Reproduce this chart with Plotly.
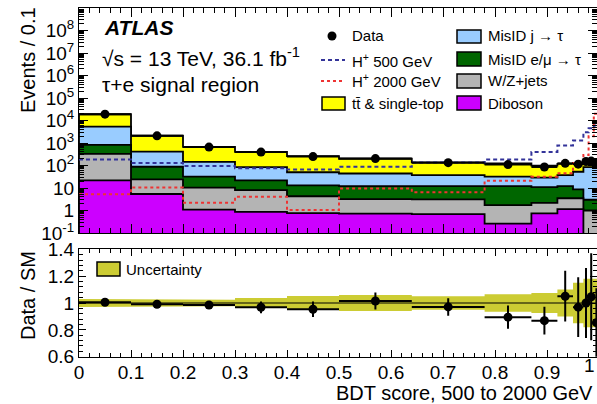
import plotly.graph_objects as go

# ---------------------------------------------------------------- data
edges = [0.0, 0.1, 0.2, 0.3, 0.4, 0.5, 0.64, 0.78, 0.87, 0.92, 0.95, 0.97, 0.98, 0.99, 1.0]

# background components (events / 0.1), bottom of the stack first
diboson   = [22, 5.4, 1.1, 0.86, 0.77, 0.72, 0.69, 0.26, 0.75, 1.15, 1.15, 0, 0, 0]
wz_jets   = [308, 18.6, 9.2, 7.24, 3.53, 2.48, 2.41, 1.49, 1.45, 2.35, 2.35, 1.0, 1.0, 1.0]
misid_lep = [490, 64, 21.7, 13.9, 8.9, 8.9, 9.0, 10.35, 8.8, 8.6, 5.2, 2.0, 2.0, 2.0]
misid_jet = [4480, 322, 114, 62, 36.8, 31.9, 24.9, 19.9, 18, 24.9, 44, 82, 82, 82]
ttbar     = [13700, 1690, 524, 323, 210, 156, 101, 91, 70, 82, 66, 65, 65, 65]

# observed data and its relative statistical uncertainty
data         = [19100, 2080, 660, 394, 248, 203, 134, 110, 86, 125, 115, 150, 157, 128]
data_rel_err = [0.008, 0.02, 0.02, 0.045, 0.06, 0.062, 0.067, 0.097, 0.12, 0.18, 0.23, 0.26, 0.31, 0.30]

# relative uncertainty of the SM prediction
sm_rel_unc = [0.03, 0.025, 0.025, 0.037, 0.052, 0.06, 0.05, 0.066, 0.075, 0.10, 0.15, 0.18, 0.18, 0.18]

# signal hypotheses
hplus_500  = [185, 130, 95, 75, 67, 88, 135, 185, 400, 780, 1300, 3000, 4500, 6000]
hplus_2000 = [5.3, 10.5, 2.2, 4.1, 1.05, 9.5, 6.5, 21, 32, 45, 130, 290, 2000, 20000]

log_ticks = [0.1, 1, 10, 1e2, 1e3, 1e4, 1e5, 1e6, 1e7, 1e8]
log_labels = ["10<sup>-1</sup>", "1", "10", "10<sup>2</sup>", "10<sup>3</sup>", "10<sup>4</sup>",
              "10<sup>5</sup>", "10<sup>6</sup>", "10<sup>7</sup>", "10<sup>8</sup>"]

# ---------------------------------------------------------------- style
W, H = 597, 404
FONT = "Liberation Sans, Arial, Helvetica, sans-serif"
C_TT, C_JET, C_LEP, C_WZ, C_VV = "#ffff00", "#99ccff", "#006600", "#b4b4b4", "#cc00ff"
C_BAND = "#cccc33"
C_H500, C_H2000 = "#333399", "#ee3333"
DASH_500 = "4px,3px"

def px(x):
    return x / W

def py(y):
    return 1 - y / H

X0, PW = 79, 520          # left frame edge and pixels per unit BDT score
x_hi = (W - X0) / PW

nb = len(edges) - 1
centers = [(edges[i] + edges[i + 1]) / 2 for i in range(nb)]
halfw = [(edges[i + 1] - edges[i]) / 2 for i in range(nb)]

# cumulative stack
comps = [(diboson, C_VV), (wz_jets, C_WZ), (misid_lep, C_LEP), (misid_jet, C_JET), (ttbar, C_TT)]
cum = []
running = [0.0] * nb
for vals, col in comps:
    running = [r + v for r, v in zip(running, vals)]
    cum.append((list(running), col))
total = cum[-1][0]


def step_outline(vals, floor=1e-3):
    xs, ys = [edges[0]], [floor]
    for i, v in enumerate(vals):
        v = max(v, floor)
        xs += [edges[i], edges[i + 1]]
        ys += [v, v]
    xs += [edges[-1], edges[0]]
    ys += [floor, floor]
    return xs, ys


fig = go.Figure()

# stacked backgrounds: draw largest cumulative first
for vals, col in reversed(cum):
    xs, ys = step_outline(vals)
    fig.add_trace(go.Scatter(x=xs, y=ys, fill="toself", fillcolor=col, mode="lines",
                             line=dict(color="black", width=1.8), hoverinfo="skip",
                             xaxis="x", yaxis="y"))

# signals
fig.add_trace(go.Scatter(x=edges, y=hplus_500 + [hplus_500[-1]], mode="lines", line_shape="hv",
                         line=dict(color=C_H500, width=2, dash=DASH_500), xaxis="x", yaxis="y"))
fig.add_trace(go.Scatter(x=edges, y=hplus_2000 + [hplus_2000[-1]], mode="lines", line_shape="hv",
                         line=dict(color=C_H2000, width=2, dash="dot"), xaxis="x", yaxis="y"))

# data in the main panel
fig.add_trace(go.Scatter(
    x=centers, y=data, mode="markers",
    marker=dict(color="black", size=9),
    error_y=dict(type="data", array=[d * e for d, e in zip(data, data_rel_err)],
                 color="black", thickness=2, width=0),
    error_x=dict(type="data", array=halfw, color="black", thickness=2, width=0),
    xaxis="x", yaxis="y"))

# ratio panel: uncertainty band
bx, by_up, by_dn = [], [], []
for i in range(nb):
    bx += [edges[i], edges[i + 1]]
    by_up += [1 + sm_rel_unc[i]] * 2
    by_dn += [1 - sm_rel_unc[i]] * 2
fig.add_trace(go.Scatter(x=bx + bx[::-1], y=by_up + by_dn[::-1], fill="toself",
                         fillcolor=C_BAND, mode="lines", line=dict(width=0),
                         hoverinfo="skip", xaxis="x2", yaxis="y2"))
fig.add_trace(go.Scatter(x=[0, 1], y=[1, 1], mode="lines", line=dict(color="black", width=1),
                         xaxis="x2", yaxis="y2"))

ratio = [d / t for d, t in zip(data, total)]
fig.add_trace(go.Scatter(
    x=centers, y=ratio, mode="markers",
    marker=dict(color="black", size=9),
    error_y=dict(type="data", array=[r * e for r, e in zip(ratio, data_rel_err)],
                 color="black", thickness=2, width=0),
    error_x=dict(type="data", array=halfw, color="black", thickness=2, width=0),
    xaxis="x2", yaxis="y2"))

# ---------------------------------------------------------------- axes
x_dom = [px(X0), 1.0]
top_dom = [py(233), py(8)]
bot_dom = [py(356.7), py(249.3)]

common = dict(showline=True, linecolor="black", linewidth=1, mirror="allticks",
              showgrid=False, zeroline=False, ticks="inside", tickcolor="black",
              automargin=False, tickfont=dict(family=FONT, size=19, color="black"))

fig.update_layout(
    width=W, height=H, margin=dict(l=0, r=0, t=0, b=0),
    paper_bgcolor="white", plot_bgcolor="white", showlegend=False,
    xaxis=dict(domain=x_dom, range=[0, x_hi], anchor="y", dtick=0.1, tick0=0,
               ticklen=9, showticklabels=False,
               minor=dict(dtick=0.02, tick0=0, ticks="inside", ticklen=5, tickcolor="black"),
               **common),
    yaxis=dict(domain=top_dom, type="log", range=[-1, 9], anchor="x",
               tickmode="array", tickvals=log_ticks, ticktext=log_labels, ticklen=9,
               minor=dict(tickmode="array",
                          tickvals=[k * 10 ** e for e in range(-1, 9) for k in range(2, 10)],
                          ticks="inside", ticklen=5, tickcolor="black"),
               **common),
    xaxis2=dict(domain=x_dom, range=[0, x_hi], anchor="y2", dtick=0.1, tick0=0,
                ticklen=7, ticklabelstandoff=-2,
                minor=dict(dtick=0.02, tick0=0, ticks="inside", ticklen=4, tickcolor="black"),
                **common),
    yaxis2=dict(domain=bot_dom, range=[0.6, 1.4], anchor="x2", dtick=0.2, tick0=0.6,
                ticklen=7,
                minor=dict(dtick=0.04, tick0=0.6, ticks="inside", ticklen=4, tickcolor="black"),
                **common),
)

# ---------------------------------------------------------------- text and legend
ann = []
def text(x, y, s, size, xanchor="left", yanchor="middle", angle=0):
    ann.append(dict(x=px(x), y=py(y), xref="paper", yref="paper", text=s, showarrow=False,
                    xanchor=xanchor, yanchor=yanchor, textangle=angle,
                    font=dict(family=FONT, size=size, color="black")))

text(102, 27, "<b><i>ATLAS</i></b>", 21)
text(100, 57, "√s = 13 TeV, 36.1 fb<sup>-1</sup>", 21)
text(100, 85, "τ+e signal region", 21)

text(28, 60, "Events / 0.1", 20, xanchor="center", angle=-90)
text(28, 296, "Data / SM", 20, xanchor="center", angle=-90)
text(595, 392.5, "BDT score, 500 to 2000 GeV", 20, xanchor="right")
text(597, 365, "1", 19, xanchor="right")

# legend, left column
text(350, 36, "Data", 15)
text(350, 60, "H<sup>+</sup> 500 GeV", 15)
text(350, 81, "H<sup>+</sup> 2000 GeV", 15)
text(350, 103, "tt̄ & single-top", 15)
# legend, right column
text(486, 36, "MisID j → τ", 15)
text(486, 59, "MisID e/μ → τ", 15)
text(486, 81, "W/Z+jets", 15)
text(486, 103, "Diboson", 15)
text(124, 269, "Uncertainty", 15)

shapes = []
def box(x0, y0, x1, y1, col):
    shapes.append(dict(type="rect", xref="paper", yref="paper",
                       x0=px(x0), x1=px(x1), y0=py(y1), y1=py(y0),
                       fillcolor=col, line=dict(color="black", width=1.5)))

box(322, 97, 345, 110, C_TT)
box(457, 30, 481, 43, C_JET)
box(457, 52, 481, 66, C_LEP)
box(457, 74, 481, 88, C_WZ)
box(457, 96, 481, 110, C_VV)
box(97, 262, 120, 276, C_BAND)
shapes.append(dict(type="line", xref="paper", yref="paper", x0=px(321), x1=px(345),
                   y0=py(60), y1=py(60), line=dict(color=C_H500, width=2, dash=DASH_500)))
shapes.append(dict(type="line", xref="paper", yref="paper", x0=px(321), x1=px(345),
                   y0=py(81), y1=py(81), line=dict(color=C_H2000, width=2, dash="dot")))
shapes.append(dict(type="circle", xref="paper", yref="paper", x0=px(327.5), x1=px(336.5),
                   y0=py(40.5), y1=py(31.5), fillcolor="black", line=dict(color="black", width=0)))

fig.update_layout(annotations=ann, shapes=shapes)
fig.write_html("out.html")
